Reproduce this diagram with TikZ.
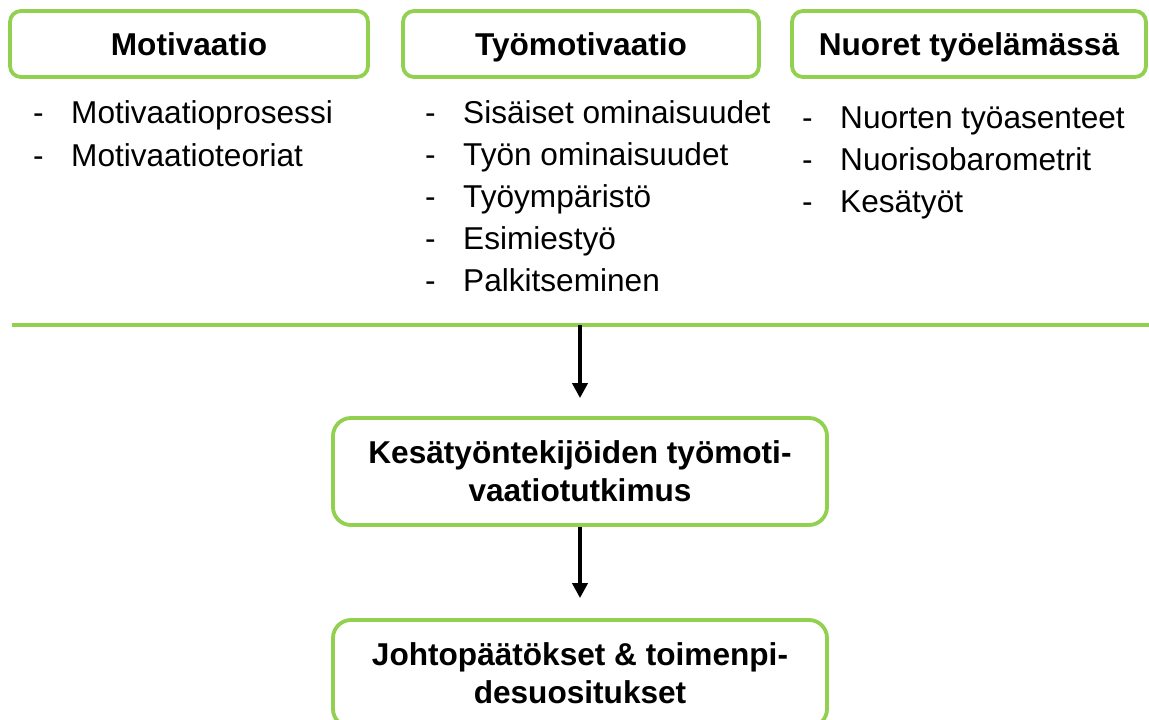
\documentclass[tikz,border=0pt]{standalone}
\usepackage{fontspec}
\setmainfont{Liberation Sans}
\usetikzlibrary{positioning, arrows.meta}
\definecolor{boxgreen}{RGB}{146,208,80}
\newcommand{\diagfont}{\fontsize{31.6pt}{38pt}\selectfont}
\newcommand{\dash}{\makebox[38pt][l]{-}}
\tikzset{
  title/.style={
      rectangle,
      draw=boxgreen,
      line width=3.8pt,
      rounded corners=11pt,
      font=\diagfont\bfseries,
      text height=22.6pt,
      text depth=0pt,
      minimum height=66pt
    },
  stage/.style={
      rectangle,
      draw=boxgreen,
      line width=3.8pt,
      rounded corners=18pt,
      font=\diagfont\bfseries,
      align=center,
      minimum width=494pt,
      minimum height=107pt
    },
  item/.style={
      anchor=base west,
      inner sep=0pt,
      font=\diagfont
    },
  rule/.style={
      draw=boxgreen,
      line width=4pt
    },
  arr/.style={
      -{Triangle[width=15pt,length=15pt]},
      line width=3.8pt
    }
}

\begin{document}
\begin{tikzpicture}[x=1pt, y=-1pt]
  \useasboundingbox (0,0) rectangle (1149,720);
  \node[title, minimum width=358pt] (motiv) at (189,44) {Motivaatio};
  \node[title, minimum width=356pt] (tyomotiv) at (581,44) {Työmotivaatio};
  \node[title, minimum width=354pt] (nuoret) at (969,44) {Nuoret työelämässä};
  \foreach \txt [count=\i] in {Motivaatioprosessi, Motivaatioteoriat}
    \node[item] (motiv\i) at (33,{123+(\i-1)*43}) {\dash\txt};
  \foreach \txt [count=\i] in {Sisäiset ominaisuudet, Työn ominaisuudet, Työympäristö, Esimiestyö, Palkitseminen}
    \node[item] (tyomotiv\i) at (425,{123+(\i-1)*42}) {\dash\txt};
  \foreach \txt [count=\i] in {Nuorten työasenteet, Nuorisobarometrit, Kesätyöt}
    \node[item] (nuoret\i) at (802,{128+(\i-1)*42}) {\dash\txt};
  \coordinate (ruleL) at (12,325); \coordinate (ruleR) at (1149,325); \coordinate (split) at (580,325);
  \draw[rule] (ruleL) -- (ruleR);
  \node[stage] (study) at (580,471.5) {Kesätyöntekijöiden työmoti-\\vaatiotutkimus};
  \node[stage] (concl) at (580,673.5) {Johtopäätökset \& toimenpi-\\desuositukset};
  \draw[arr, shorten >=18pt] (split) -- (study);
  \draw[arr, shorten >=20pt] (study) -- (concl);
\end{tikzpicture}
\end{document}
